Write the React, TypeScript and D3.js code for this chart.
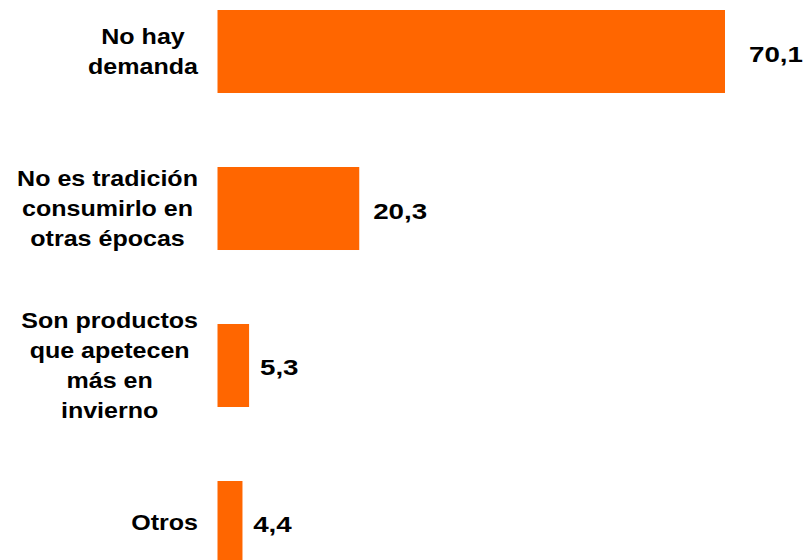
import React, { useEffect, useRef } from 'react';
import * as d3 from 'd3';

const categories = ['No hay demanda', 'No es tradición consumirlo en otras épocas', 'Son productos que apetecen más en invierno', 'Otros'];
const labelLines = [
  ['No hay', 'demanda'],
  ['No es tradición', 'consumirlo en', 'otras épocas'],
  ['Son productos', 'que apetecen', 'más en', 'invierno'],
  ['Otros'],
];
const values = [70.1, 20.3, 5.3, 4.4];
const valueLabels = ['70,1', '20,3', '5,3', '4,4'];

const W = 805;
const H = 560;
const FONT = "'Liberation Sans', Arial, Helvetica, sans-serif";

export default function App() {
  const ref = useRef<SVGSVGElement | null>(null);

  useEffect(() => {
    const svg = d3.select(ref.current);
    svg.selectAll('*').remove();

    const x = d3.scaleLinear().domain([1, 70.1]).range([217.5, 725]);
    const labelX = d3.scaleLinear().domain([0, 70.1]).range([220, 749]);
    const y = d3
      .scaleBand<string>()
      .domain(categories)
      .range([10, 564])
      .paddingInner(0.4713)
      .paddingOuter(0);

    svg
      .append('g')
      .selectAll('rect')
      .data(values)
      .join('rect')
      .attr('x', x(1))
      .attr('y', (_, i) => y(categories[i]) as number)
      .attr('width', (d) => x(d) - x(1))
      .attr('height', y.bandwidth())
      .attr('fill', '#FF6600');

    // value labels
    const vsx = 1.29;
    svg
      .append('g')
      .selectAll('text')
      .data(values)
      .join('text')
      .attr('transform', (d, i) => {
        const cy = (y(categories[i]) as number) + y.bandwidth() / 2;
        return `translate(${labelX(d)},${cy + 10})scale(${vsx},1)`;
      })
      .attr('font-family', FONT)
      .attr('font-weight', 'bold')
      .attr('font-size', 21.5)
      .attr('fill', '#000')
      .text((_, i) => valueLabels[i]);

    // category labels
    const csx = 1.165;
    const lineH = 30;
    const right = 198;
    labelLines.forEach((lines, i) => {
      const cy = (y(categories[i]) as number) + y.bandwidth() / 2;
      const g = svg.append('g');
      const texts = g
        .selectAll('text')
        .data(lines)
        .join('text')
        .attr('font-family', FONT)
        .attr('font-weight', 'bold')
        .attr('font-size', 21.5)
        .attr('fill', '#000')
        .attr('text-anchor', 'middle')
        .text((d) => d);
      let maxW = 0;
      texts.each(function () {
        const w = (this as SVGTextElement).getComputedTextLength();
        if (w > maxW) maxW = w;
      });
      const cx = right - (maxW * csx) / 2;
      const n = lines.length;
      texts.attr('transform', (_, j) => {
        const base = cy - ((n - 1) / 2) * lineH + j * lineH + 7.5;
        return `translate(${cx},${base})scale(${csx},1)`;
      });
    });
  }, []);

  return (
    <svg
      ref={ref}
      width={W}
      height={H}
      style={{ position: 'absolute', left: 0, top: 0, background: '#fff', display: 'block' }}
    />
  );
}
